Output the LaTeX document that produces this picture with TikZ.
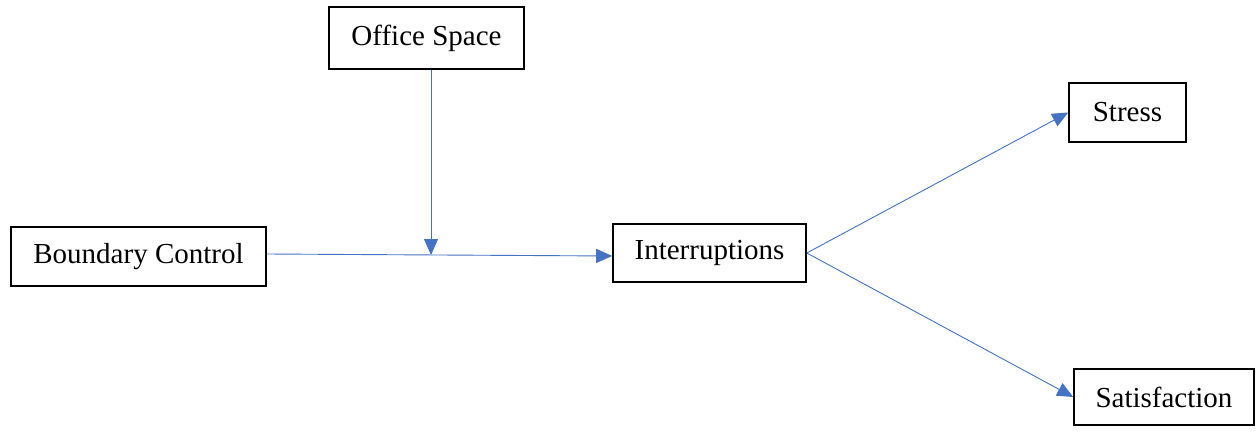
\documentclass[tikz,border=0pt]{standalone}
\usepackage{fontspec}
\setmainfont{Liberation Serif}
\usetikzlibrary{arrows.meta}
\definecolor{linkblue}{HTML}{4472C4}

\begin{document}
\begin{tikzpicture}[x=1pt, y=-1pt,
		varbox/.style={draw=black, line width=1.6pt, inner sep=0pt, font=\fontsize{29}{34}\selectfont},
		link/.style={draw=linkblue, line width=0.9pt, -{Triangle[length=16pt,width=14pt]}}]
				\useasboundingbox (0,0) rectangle (1257,431);
				
				\node[varbox, minimum width=195pt, minimum height=62pt] (office) at (426.5,38) {Office Space};
				\node[varbox, minimum width=255pt, minimum height=59pt] (boundary) at (138.5,256.5) {Boundary Control};
				\node[varbox, minimum width=193pt, minimum height=58pt] (interrupt) at (709.5,253) {Interruptions};
				\node[varbox, minimum width=117pt, minimum height=59pt] (stress) at (1127.5,112.5) {Stress};
				\node[varbox, minimum width=180pt, minimum height=56pt] (satisf) at (1164,397) {Satisfaction};
				
				\coordinate (moderate) at (431,255);
				
				\draw[link] ([yshift=2.5pt]boundary.east) -- ([yshift=-3pt]interrupt.west);
				\draw[link] (office.south -| moderate) -- (moderate);
				\draw[link] (interrupt.east) -- (stress.west);
				\draw[link] (interrupt.east) -- (satisf.west);
			\end{tikzpicture}
\end{document}
